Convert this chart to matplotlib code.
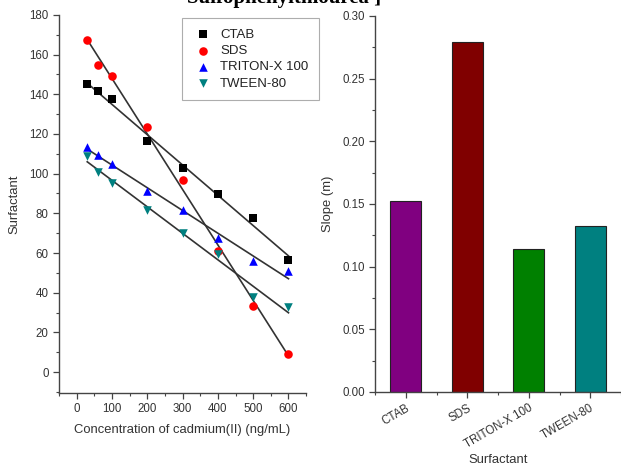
import numpy as np
import matplotlib
matplotlib.use("Agg")
import matplotlib.pyplot as plt
from matplotlib.ticker import MultipleLocator

# ---- data ----
conc = [30, 60, 100, 200, 300, 400, 500, 600]
ctab = [145, 141.5, 137.5, 116.5, 103, 89.5, 77.5, 56.5]
sds = [167.5, 154.5, 149, 123.5, 97, 61, 33.5, 9]
triton = [113.5, 109.5, 105, 91.5, 81.5, 67.5, 56, 51]
tween = [109, 101, 95.5, 81.5, 70, 59.5, 38, 33]

surfactants = ["CTAB", "SDS", "TRITON-X 100", "TWEEN-80"]
slopes = [0.152, 0.279, 0.114, 0.132]
bar_colors = ["#800080", "#800000", "#008000", "#008080"]

plt.rcParams["font.family"] = ["Liberation Sans", "DejaVu Sans"]
fig = plt.figure(figsize=(6.21, 4.65), dpi=100)

axc = "#444444"
txt = "#333333"

def style(ax):
    for s in ["top", "right"]:
        ax.spines[s].set_visible(False)
    for s in ["left", "bottom"]:
        ax.spines[s].set_color(axc)
        ax.spines[s].set_linewidth(1.0)
    ax.tick_params(which="major", direction="out", length=4, width=0.9,
                   color=axc, labelsize=8.3, labelcolor=txt)
    ax.tick_params(which="minor", direction="out", length=2.5, width=0.8, color=axc)

# ---- left scatter ----
ax1 = fig.add_axes([0.095, 0.155, 0.398, 0.813])
series = [
    ("CTAB", ctab, "s", "black"),
    ("SDS", sds, "o", "#ff0000"),
    ("TRITON-X 100", triton, "^", "#0000ff"),
    ("TWEEN-80", tween, "v", "#008080"),
]
handles = []
x = np.array(conc, dtype=float)
for name, vals, mk, col in series:
    y = np.array(vals, dtype=float)
    m, b = np.polyfit(x, y, 1)
    ax1.plot([x[0], x[-1]], [m * x[0] + b, m * x[-1] + b], color="#333333", lw=1.2, zorder=2)
    h = ax1.scatter(x, y, marker=mk, s=38, color=col, zorder=3, label=name, linewidths=0)
    handles.append(h)
ax1.set_xlim(-50, 650)
ax1.set_ylim(-10.5, 180)
ax1.xaxis.set_major_locator(MultipleLocator(100))
ax1.xaxis.set_minor_locator(MultipleLocator(50))
ax1.yaxis.set_major_locator(MultipleLocator(20))
ax1.yaxis.set_minor_locator(MultipleLocator(10))
style(ax1)
ax1.set_xlabel("Concentration of cadmium(II) (ng/mL)", fontsize=9.4, color=txt, labelpad=6)
ax1.set_ylabel("Surfactant", fontsize=9.4, color=txt, labelpad=6)

leg = fig.legend(handles=handles, labels=[s[0] for s in series], loc="upper left",
                 bbox_to_anchor=(0.293, 0.961), fancybox=False, frameon=True,
                 fontsize=9.5, handletextpad=0.5, labelspacing=0.3,
                 borderpad=0.8, borderaxespad=0, handlelength=1.6, scatterpoints=1)
leg.get_frame().set_edgecolor("#999999")
leg.get_frame().set_linewidth(0.8)
for t in leg.get_texts():
    t.set_color("#222222")

# ---- right bar ----
ax2 = fig.add_axes([0.604, 0.157, 0.396, 0.809])
pos = np.arange(1, len(surfactants) + 1)
ax2.bar(pos, slopes, width=0.5, color=bar_colors, edgecolor="#222222", linewidth=0.8)
ax2.set_xlim(0.5, 4.5)
ax2.set_ylim(0, 0.30)
ax2.set_xticks(pos)
ax2.set_xticklabels(surfactants, rotation=30, ha="right", rotation_mode="anchor")
ax2.xaxis.set_minor_locator(MultipleLocator(0.5))
ax2.yaxis.set_major_locator(MultipleLocator(0.05))
ax2.yaxis.set_minor_locator(MultipleLocator(0.025))
ax2.yaxis.set_major_formatter(matplotlib.ticker.FormatStrFormatter("%.2f"))
style(ax2)
ax2.set_xlabel("Surfactant", fontsize=9.4, color=txt, labelpad=2)
ax2.set_ylabel("Slope (m)", fontsize=9.4, color=txt, labelpad=6)

# clipped caption text at top
fig.text(0.457, 0.993, "Sulfophenylthiourea ]", fontsize=15, fontweight="bold",
         family=["Liberation Serif", "DejaVu Serif"], ha="center", va="baseline")

fig.savefig("out.png", dpi=100)
